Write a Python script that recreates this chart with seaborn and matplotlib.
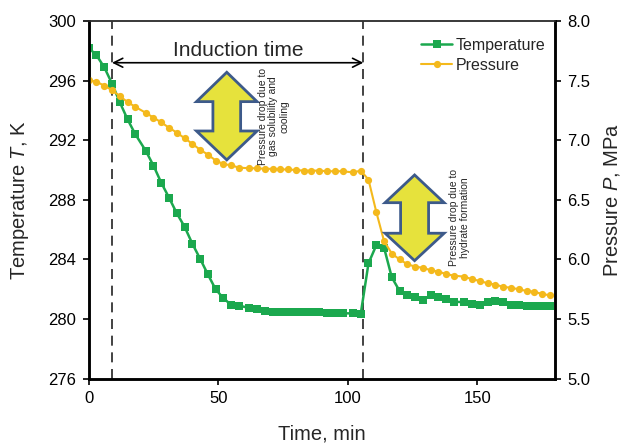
import matplotlib
matplotlib.use("Agg")
import matplotlib.pyplot as plt
from matplotlib.patches import Polygon
from matplotlib.lines import Line2D
import seaborn as sns
import pandas as pd

# Experiment record: time (min), cell temperature (K), cell pressure (MPa)
time_min = [0, 3, 6, 9, 12, 15, 18, 22, 25, 28, 31, 34, 37, 40, 43, 46, 49, 52, 55, 58,
            62, 65, 68, 71, 74, 77, 80, 83, 86, 89, 92, 95, 98, 102, 105,
            108, 111, 114, 117, 120, 123, 126, 129, 132, 135, 138, 141, 145, 148, 151,
            154, 157, 160, 163, 166, 169, 172, 175, 178]
temperature_K = [298.2, 297.7, 296.9, 295.8, 294.55, 293.4, 292.4, 291.3, 290.3, 289.15,
                 288.15, 287.1, 286.2, 285.06, 284.05, 283.0, 282.0, 281.4, 280.95, 280.9,
                 280.75, 280.66, 280.52, 280.5, 280.5, 280.46, 280.46, 280.46, 280.46, 280.45,
                 280.4, 280.39, 280.39, 280.38, 280.34,
                 283.74, 284.95, 284.8, 282.8, 281.89, 281.6, 281.5, 281.3, 281.6, 281.5,
                 281.33, 281.17, 281.13, 280.99, 280.95, 281.13, 281.2, 281.13, 280.95,
                 280.95, 280.9, 280.9, 280.9, 280.9]
pressure_MPa = [7.506, 7.49, 7.458, 7.42, 7.37, 7.32, 7.28, 7.23, 7.19, 7.15,
                7.105, 7.064, 7.017, 6.97, 6.92, 6.88, 6.83, 6.80, 6.79, 6.77,
                6.765, 6.765, 6.76, 6.76, 6.755, 6.755, 6.75, 6.745, 6.745, 6.745,
                6.74, 6.74, 6.74, 6.73, 6.745,
                6.67, 6.40, 6.155, 6.05, 6.00, 5.96, 5.94, 5.93, 5.91, 5.898,
                5.878, 5.864, 5.856, 5.834, 5.82, 5.80, 5.79, 5.77, 5.763,
                5.75, 5.736, 5.73, 5.71, 5.70]

# Start and end of the induction period (min)
induction_bounds = [9, 106]

x_ticks = [0, 50, 100, 150]
t_ticks = [276, 280, 284, 288, 292, 296, 300]
p_ticks = [5.0, 5.5, 6.0, 6.5, 7.0, 7.5, 8.0]

series_names = ["Temperature", "Pressure"]

df = pd.DataFrame({"time": time_min, "T": temperature_K, "P": pressure_MPa})

GREEN = "#1BA84E"
GOLD = "#F4B91C"
ARROW_FILL = "#E6E23C"
ARROW_EDGE = "#3D5A8A"

sns.set_theme(style="ticks")
plt.rcParams["font.family"] = ["Liberation Sans", "DejaVu Sans"]
plt.rcParams["mathtext.fontset"] = "custom"
plt.rcParams["mathtext.it"] = "Liberation Sans:italic"
plt.rcParams["mathtext.rm"] = "Liberation Sans"

fig = plt.figure(figsize=(6.25, 4.44), dpi=100)
ax = fig.add_axes([88.7 / 625, 1 - 378.7 / 444, (555 - 88.7) / 625, (378.7 - 21) / 444])
ax2 = ax.twinx()

sns.lineplot(data=df, x="time", y="T", ax=ax, color=GREEN, marker="s",
             markersize=5.6, markeredgewidth=0, linewidth=1.8, legend=False)
sns.lineplot(data=df, x="time", y="P", ax=ax2, color=GOLD, marker="o",
             markersize=5.2, markeredgewidth=0, linewidth=1.5, legend=False)

ax.set_xlim(0, 180)
ax.set_ylim(276, 300)
ax2.set_ylim(5.0, 8.0)
ax.set_xticks(x_ticks)
ax.set_yticks(t_ticks)
ax2.set_yticks(p_ticks)
ax2.set_yticklabels([f"{v:.1f}" for v in p_ticks])

ax.set_xlabel("Time, min", fontsize=14.5, labelpad=13)
ax.set_ylabel(r"Temperature $T$, K", fontsize=14.5, labelpad=12)
ax2.set_ylabel(r"Pressure $P$, MPa", fontsize=14.5, labelpad=8)

for a in (ax, ax2):
    a.tick_params(axis="both", direction="out", length=4, width=1.2,
                  labelsize=12, pad=5, colors="black")
    for side in ("left", "right", "bottom"):
        a.spines[side].set_linewidth(1.8)
        a.spines[side].set_color("black")
    a.spines["top"].set_linewidth(1.1)
    a.spines["top"].set_color("#333333")
    a.spines["top"].set_visible(True)
    a.spines["right"].set_visible(True)

# Induction period markers
for t in induction_bounds:
    ax.axvline(t, color="#222222", linestyle=(0, (6, 4)), linewidth=1.2, zorder=1)
ax.annotate("", xy=(induction_bounds[0], 297.2), xytext=(induction_bounds[1], 297.2),
            arrowprops=dict(arrowstyle="<->", color="black", lw=1.2,
                            shrinkA=0, shrinkB=0, mutation_scale=16))
ax.text(57.6, 298.0, "Induction time", fontsize=15, ha="center", va="center")


def double_arrow(cx, top, head1, head2, bottom, head_half, shaft_half):
    pts = [(cx, top), (cx + head_half, head1), (cx + shaft_half, head1),
           (cx + shaft_half, head2), (cx + head_half, head2), (cx, bottom),
           (cx - head_half, head2), (cx - shaft_half, head2),
           (cx - shaft_half, head1), (cx - head_half, head1)]
    return Polygon(pts, closed=True, facecolor=ARROW_FILL, edgecolor=ARROW_EDGE,
                   linewidth=2.0, joinstyle="miter", transform=ax.transData, zorder=6)


ax2.add_patch(double_arrow(53.3, 296.56, 294.59, 292.62, 290.68, 11.7, 5.35))
ax2.add_patch(double_arrow(125.8, 289.67, 287.81, 285.76, 283.92, 11.4, 5.4))

ax2.text(71.3, 293.6, "Pressure drop due to\ngas solubility and\ncooling",
         transform=ax.transData, rotation=90, fontsize=7.5, ha="center",
         va="center", multialignment="center", linespacing=1.1, zorder=7)
ax2.text(143.2, 286.8, "Pressure drop due to\nhydrate formation",
         transform=ax.transData, rotation=90, fontsize=7.5, ha="center",
         va="center", multialignment="center", linespacing=1.1, zorder=7)

handles = [
    Line2D([], [], color=GREEN, marker="s", markersize=5.6, markeredgewidth=0, linewidth=1.8),
    Line2D([], [], color=GOLD, marker="o", markersize=5.2, markeredgewidth=0, linewidth=1.5),
]
ax2.legend(handles, series_names, loc="upper right", bbox_to_anchor=(1.0, 0.98),
           frameon=False, fontsize=11.5, handlelength=2.0, handletextpad=0.2,
           borderaxespad=0.2, labelspacing=0.3)

fig.savefig("out.png", dpi=100)
